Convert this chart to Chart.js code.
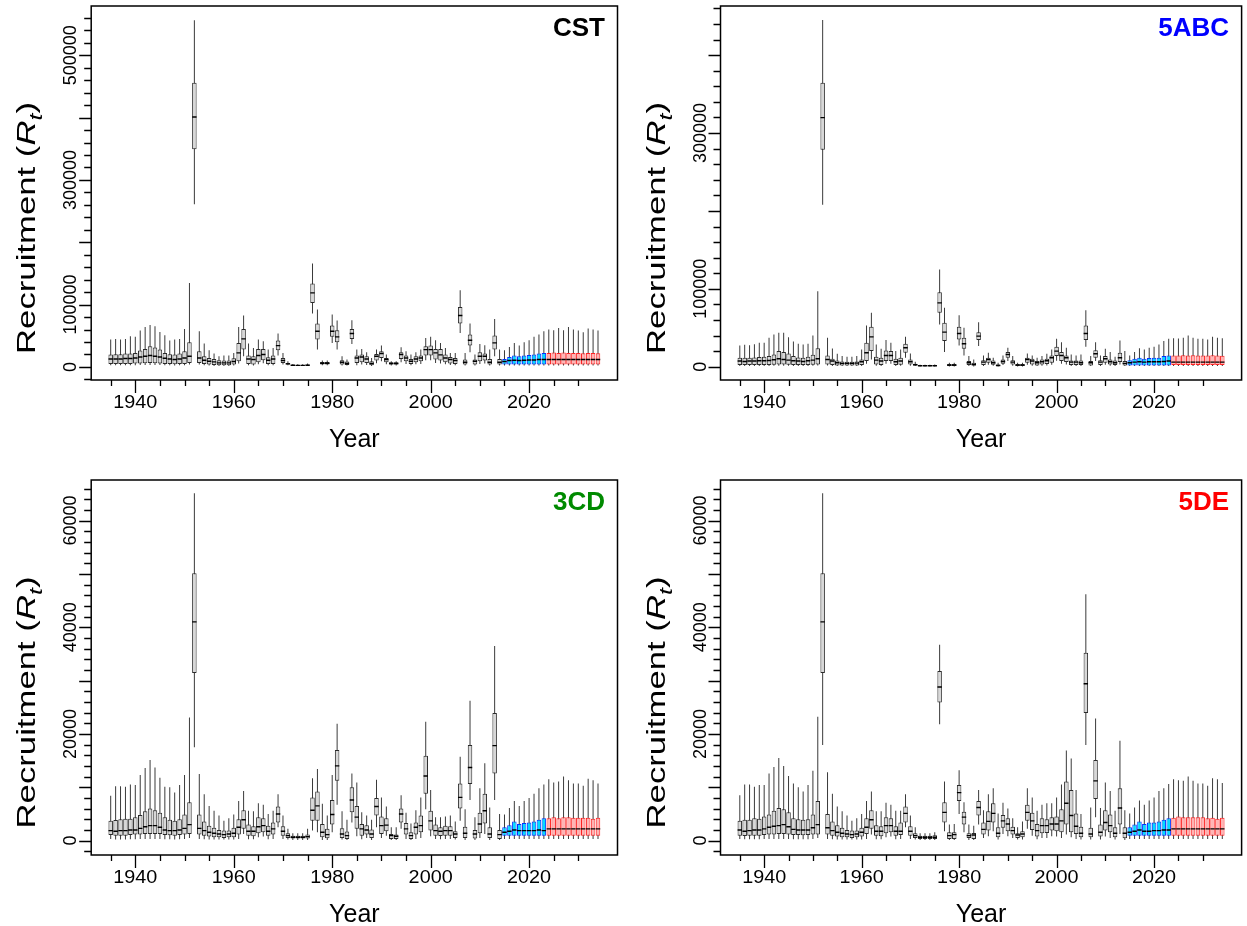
<!DOCTYPE html>
<html>
<head>
<meta charset="utf-8">
<title>Recruitment</title>
<script src="https://cdn.jsdelivr.net/npm/chart.js@4.4.1/dist/chart.umd.min.js"></script>
<style>
  html, body { margin: 0; padding: 0; background: #fff; }
  #wrap { position: relative; width: 1247px; height: 926px; }
  #wrap canvas { position: absolute; left: 0; top: 0; }
</style>
</head>
<body>
<div id="wrap">
  <canvas id="cst" width="1247" height="926"></canvas>
  <canvas id="abc" width="1247" height="926"></canvas>
  <canvas id="cd" width="1247" height="926"></canvas>
  <canvas id="de" width="1247" height="926"></canvas>
</div>
<script>
document.addEventListener("DOMContentLoaded", function() {
    // years 1935-2034: grey = estimated, blue = model years, red = projection
    const years = Array.from({ length: 100 }, (_, i) => 1935 + i);
    const lastEstimatedYear = 2014;
    const lastModelYear = 2023;

    const xTickLabels = [1940, 1960, 1980, 2000, 2020];
    const xMinorFrom = 1935, xMinorTo = 2030, xMinorStep = 5;

    const cstTickLabels = [0, 100000, 300000, 500000];
    const abcTickLabels = [0, 100000, 300000];
    const cdTickLabels = [0, 20000, 40000, 60000];
    const deTickLabels = [0, 20000, 40000, 60000];

    // ---- CST (coastwide) ----
    const cstHi = [
        43900, 44900, 43900, 44900, 49200, 48200, 58300, 64200, 67400, 65300,
        56200, 50800, 42300, 43900, 44900, 61000, 134800, 556000, 57200, 37400,
        26700, 21400, 17100, 18200, 18200, 22500, 64200, 82400, 37400, 30500,
        43900, 41200, 27800, 30500, 53500, 22500, 9100, 4800, 4300, 4300,
        5400, 165900, 92000, 10200, 10200, 84000, 74400, 17100, 11800, 74900,
        27800, 28900, 23500, 14400, 27800, 34200, 19800, 9100, 9100, 31600,
        25100, 19800, 23500, 27800, 46500, 48200, 42800, 38500, 30500, 22500,
        22500, 123000, 22500, 69600, 19800, 36900, 34800, 27800, 77000, 27800,
        26700, 32100, 38500, 34200, 39600, 42800, 48200, 51900, 57200, 59900,
        58900, 62600, 58900, 64200, 59900, 58300, 55600, 61500, 59900, 58300];
    const cstQ3 = [
        19800, 20300, 20300, 21400, 21400, 22500, 26200, 28900, 33200, 31000,
        27800, 22500, 20300, 19800, 21400, 25100, 39600, 456000, 25100, 17100,
        14400, 12800, 10700, 10200, 10200, 13900, 38500, 61000, 18200, 17100,
        28900, 28900, 15500, 18200, 42300, 14400, 6400, 3200, 3200, 3200,
        3700, 133800, 69600, 8000, 8000, 66300, 58900, 10700, 8600, 61000,
        18200, 19800, 17100, 9100, 20900, 25100, 14400, 7500, 7500, 23500,
        18200, 12800, 17100, 18200, 33200, 34200, 28900, 28900, 19800, 16000,
        14400, 96300, 11800, 51900, 11800, 23500, 21400, 12800, 50300, 12800,
        12800, 16000, 18200, 17100, 18200, 19300, 19800, 21400, 22500, 22500,
        23000, 22500, 23000, 22500, 22500, 22500, 22000, 22500, 22500, 22000];
    const cstMed = [
        12800, 12800, 12800, 13400, 13400, 14400, 16000, 17100, 18200, 17100,
        16000, 13900, 12800, 11800, 12800, 14400, 17100, 401000, 14400, 10700,
        9100, 8000, 6400, 6400, 6400, 8600, 22500, 44900, 12800, 11800,
        18200, 19800, 10700, 12800, 34200, 10200, 4800, 2700, 2400, 2400,
        2700, 118800, 57200, 5900, 5900, 57200, 48200, 7500, 5400, 53500,
        14400, 16000, 12800, 5400, 17100, 21400, 11800, 5400, 5400, 19800,
        14400, 9100, 12800, 14400, 27800, 27800, 22500, 19300, 14400, 11800,
        10200, 82400, 7500, 42800, 9100, 17100, 17100, 7500, 38500, 7500,
        8600, 10200, 10700, 10200, 10700, 11200, 11200, 11800, 11800, 11800,
        11800, 11800, 11800, 11800, 11800, 11800, 11800, 11800, 11800, 11800];
    const cstQ1 = [
        4800, 4800, 4800, 4800, 4800, 5400, 5400, 5900, 6400, 5900,
        5400, 4800, 4800, 4300, 4800, 4800, 6400, 349000, 6400, 4800,
        3700, 3200, 2700, 2700, 2700, 3700, 9100, 27800, 4800, 3700,
        7500, 10700, 4800, 4800, 26700, 6400, 3700, 2100, 1900, 1900,
        2100, 102700, 43900, 3700, 3700, 48200, 39600, 3700, 3200, 44900,
        6400, 7500, 6400, 2700, 10200, 14400, 7500, 3700, 3700, 12800,
        9100, 4800, 7500, 9100, 18200, 18200, 11800, 10200, 7500, 5400,
        4800, 69600, 3700, 34200, 3700, 9100, 10200, 3700, 27800, 3700,
        3700, 3700, 3700, 3700, 3700, 3700, 3700, 3700, 3700, 3700,
        3700, 3700, 3700, 3700, 3700, 3700, 3700, 3700, 3700, 3700];
    const cstLo = [
        2700, 2700, 2700, 2700, 2700, 2700, 3000, 3200, 3200, 3200,
        3000, 2700, 2700, 2400, 2700, 2700, 3700, 261000, 3700, 2700,
        2100, 1600, 1600, 1600, 1600, 2100, 5400, 17100, 2700, 2100,
        4300, 5900, 2700, 2700, 18200, 3700, 2700, 1600, 1400, 1400,
        1600, 85600, 27800, 2700, 2700, 38500, 27800, 2100, 2100, 36900,
        2700, 3700, 3200, 1600, 5900, 9100, 4300, 2100, 2100, 7500,
        4800, 2700, 4300, 4800, 10700, 10700, 6400, 5400, 4300, 3200,
        2700, 54600, 2100, 23500, 2100, 4800, 5400, 2100, 17100, 2100,
        2100, 2100, 2100, 2100, 2100, 2100, 2100, 2100, 2100, 2100,
        2100, 2100, 2100, 2100, 2100, 2100, 2100, 2100, 2100, 2100];

    // ---- 5ABC ----
    const abcHi = [
        27300, 28200, 27700, 29000, 30700, 30700, 37100, 41400, 43600, 43600,
        38000, 32500, 29500, 28600, 29500, 40100, 96900, 445000, 37100, 23500,
        16700, 13700, 12800, 12800, 13700, 22200, 52900, 69200, 28600, 23100,
        34200, 30700, 20100, 22200, 38400, 17100, 6400, 2600, 2600, 2600,
        3000, 124700, 75600, 5100, 5100, 66200, 50000, 13700, 9400, 57200,
        14500, 17900, 11500, 5100, 14500, 24300, 13700, 5100, 5100, 17100,
        14500, 11500, 13700, 16700, 22200, 35900, 31600, 24300, 15800, 14500,
        15800, 72600, 13700, 31600, 14500, 23100, 18800, 12800, 33700, 20100,
        14500, 18800, 23900, 22200, 24300, 25600, 28600, 32900, 35900, 36700,
        36300, 37100, 40100, 37100, 35900, 35900, 35000, 38400, 37100, 36700];
    const abcQ3 = [
        11500, 11500, 11500, 11900, 12400, 12800, 13700, 15800, 20100, 18800,
        17100, 13700, 11900, 11500, 12800, 15400, 23900, 364500, 14500, 10200,
        8100, 6800, 6400, 6400, 6800, 9400, 30700, 51200, 12800, 11500,
        20900, 20100, 10200, 11500, 29500, 9400, 3800, 1700, 1700, 1700,
        2100, 95600, 56400, 3400, 3400, 51200, 37100, 7300, 5100, 44400,
        8500, 11500, 8100, 3000, 9400, 18800, 8500, 3400, 3400, 11500,
        10200, 7300, 9400, 10200, 14500, 25600, 18800, 14500, 8100, 8100,
        8100, 52900, 7300, 21300, 8500, 13700, 9400, 8100, 17900, 7300,
        8500, 10200, 11500, 10200, 11100, 11500, 11500, 13700, 14500, 14500,
        14500, 14900, 14500, 14900, 14500, 14500, 14500, 14900, 14500, 14100];
    const abcMed = [
        7300, 6800, 7300, 7300, 7700, 7700, 8100, 9000, 10200, 9400,
        8500, 7700, 7300, 6800, 7700, 8500, 10200, 319700, 9400, 7300,
        5100, 4300, 4300, 4300, 4700, 6400, 17900, 38400, 8500, 7300,
        14500, 14500, 6400, 7300, 24300, 6400, 2600, 1300, 1300, 1300,
        1300, 82000, 44400, 2100, 2100, 42700, 29500, 5100, 3000, 39300,
        6000, 9400, 5100, 1700, 6800, 15800, 6000, 2100, 2100, 9400,
        7300, 5100, 6400, 7700, 11500, 20100, 14500, 11500, 6000, 6000,
        5100, 42700, 5100, 16700, 6000, 10200, 6400, 5100, 11500, 4300,
        5100, 6000, 6400, 6000, 6400, 6400, 6400, 6800, 7300, 6000,
        6000, 6000, 6000, 6000, 6000, 6000, 6000, 6000, 6000, 6000];
    const abcQ1 = [
        2100, 2100, 2100, 2100, 2100, 2100, 2100, 2600, 3000, 3000,
        2600, 2100, 2100, 2100, 2100, 2600, 3000, 278600, 3000, 2100,
        1700, 1700, 1700, 1700, 1700, 2100, 7300, 20100, 3000, 2100,
        7300, 7300, 2100, 2600, 17900, 3000, 1700, 900, 900, 900,
        900, 69200, 32900, 900, 900, 35000, 23100, 2100, 1300, 34200,
        2100, 5100, 2600, 900, 3800, 11500, 3000, 900, 900, 5100,
        3000, 1700, 3000, 3400, 5100, 13700, 7300, 6000, 2100, 2100,
        2100, 34200, 1700, 11500, 2100, 5100, 3000, 2100, 6000, 1700,
        1700, 1700, 1700, 1700, 1700, 1700, 1700, 1700, 1700, 2100,
        2100, 2100, 2100, 2100, 2100, 2100, 2100, 2100, 2100, 2100];
    const abcLo = [
        900, 900, 900, 900, 900, 900, 900, 1300, 1300, 1300,
        1300, 900, 900, 900, 900, 1300, 1700, 208000, 1700, 900,
        900, 900, 900, 900, 900, 900, 3800, 9400, 1300, 900,
        3800, 3800, 900, 1300, 11500, 1300, 900, 400, 400, 400,
        400, 54200, 18800, 400, 400, 27300, 14500, 900, 400, 26500,
        900, 2600, 1300, 400, 2100, 7300, 1300, 400, 400, 2600,
        1300, 900, 1300, 1700, 2600, 7700, 3800, 3000, 900, 900,
        900, 25600, 900, 7300, 900, 2600, 1300, 900, 3000, 900,
        900, 900, 900, 900, 900, 900, 900, 900, 900, 900,
        900, 900, 900, 900, 900, 900, 900, 900, 900, 900];

    // ---- 3CD ----
    const cdHi = [
        8400, 10200, 10200, 10100, 10500, 10400, 12300, 13600, 15100, 13700,
        11800, 10100, 10000, 9000, 10400, 12300, 23100, 65100, 12500, 8700,
        6500, 5600, 4700, 3700, 4200, 4900, 7400, 9300, 5600, 5500,
        7000, 6700, 5000, 5600, 8700, 4700, 2200, 1370, 1370, 1370,
        2200, 11700, 13400, 6900, 4700, 12300, 21900, 5500, 3900, 12600,
        10900, 5300, 4700, 3900, 11400, 8100, 6400, 2500, 2500, 8500,
        5200, 3200, 5700, 8100, 22300, 9500, 4400, 4400, 4500, 4700,
        3600, 15700, 5900, 26200, 4400, 9800, 14500, 6200, 36500, 5000,
        4900, 6100, 7400, 6500, 7400, 8000, 8800, 9800, 10500, 11500,
        10900, 11100, 12000, 11300, 10700, 10700, 10300, 11600, 11300, 10700];
    const cdQ3 = [
        3700, 3860, 4000, 4100, 4100, 4400, 4800, 5500, 6000, 5700,
        5200, 4400, 3900, 3700, 4000, 4900, 7200, 50100, 4900, 3600,
        2800, 2400, 2000, 1870, 1870, 2400, 4000, 5700, 3000, 2700,
        4400, 4200, 2800, 3400, 6400, 2700, 1370, 930, 930, 930,
        1120, 8100, 9200, 3100, 2200, 7600, 17000, 2300, 1700, 10000,
        6500, 3100, 2900, 2100, 8000, 4500, 4200, 1250, 1120, 6000,
        3300, 1560, 3400, 4700, 15900, 5600, 3000, 2500, 2800, 2700,
        1740, 10700, 2600, 17900, 2000, 5200, 8800, 2500, 23900, 2000,
        2500, 2900, 3600, 3100, 3300, 3400, 3600, 3900, 4200, 4200,
        4400, 4200, 4400, 4400, 4300, 4300, 4300, 4300, 4100, 4300];
    const cdMed = [
        1870, 1740, 1870, 1870, 2000, 2000, 2300, 2600, 2800, 2800,
        2500, 2000, 1870, 1870, 2000, 2300, 3000, 41000, 2300, 1870,
        1560, 1370, 1250, 1120, 1250, 1370, 2500, 3900, 1740, 1740,
        2600, 2800, 1740, 2200, 5000, 1740, 930, 620, 620, 620,
        750, 5700, 6500, 1560, 1120, 4900, 14000, 1250, 930, 7600,
        4400, 2200, 2000, 1250, 6400, 2800, 2900, 930, 810, 5000,
        2200, 930, 2500, 2800, 12100, 3700, 1870, 1740, 1870, 1870,
        1250, 8100, 1370, 13700, 1250, 3100, 5600, 1250, 17800, 1120,
        1560, 1740, 2000, 1870, 1870, 1870, 1870, 2000, 1870, 2200,
        2200, 2200, 2200, 2200, 2200, 2200, 2200, 2200, 2200, 2200];
    const cdQ1 = [
        1060, 930, 930, 930, 1060, 1120, 1120, 1250, 1250, 1250,
        1250, 1060, 1000, 930, 1060, 1120, 1250, 31400, 1120, 930,
        750, 620, 620, 500, 620, 620, 1120, 2200, 930, 810,
        1370, 1560, 930, 1120, 3400, 930, 500, 370, 370, 370,
        370, 3700, 3700, 620, 440, 3000, 11200, 500, 310, 5300,
        2200, 930, 1120, 500, 4700, 1250, 1740, 310, 310, 3400,
        1120, 310, 1120, 1560, 8800, 1870, 930, 870, 930, 930,
        500, 6000, 500, 10600, 370, 1370, 3200, 500, 12600, 310,
        930, 930, 930, 930, 930, 930, 930, 930, 930, 930,
        930, 930, 930, 930, 930, 930, 930, 930, 930, 930];
    const cdLo = [
        310, 190, 190, 190, 250, 250, 310, 310, 310, 310,
        310, 250, 250, 190, 250, 310, 500, 17500, 310, 250,
        190, 190, 190, 190, 190, 190, 310, 1250, 250, 250,
        620, 750, 250, 310, 2500, 310, 190, 120, 120, 120,
        120, 1870, 1560, 120, 120, 1560, 6700, 190, 120, 3400,
        810, 250, 500, 120, 2500, 500, 930, 120, 120, 2200,
        310, 120, 310, 500, 5900, 810, 310, 250, 310, 310,
        190, 3700, 120, 7600, 120, 500, 1250, 120, 7600, 120,
        310, 310, 310, 310, 310, 310, 310, 310, 310, 310,
        310, 310, 310, 310, 310, 310, 310, 310, 310, 310];

    // ---- 5DE ----
    const deHi = [
        8500, 10500, 10500, 10100, 10400, 10400, 12600, 13800, 15500, 14000,
        12100, 10700, 10000, 9200, 10400, 13100, 23200, 65100, 12800, 8800,
        6400, 5500, 4700, 3700, 4200, 5000, 7400, 9200, 5500, 5500,
        7100, 6700, 5600, 5600, 8700, 4700, 2500, 1370, 1370, 1370,
        1560, 36700, 11100, 3000, 3100, 13200, 7200, 3000, 2800, 9500,
        5700, 8700, 9800, 5100, 7100, 6000, 4200, 2500, 3600, 9800,
        8100, 5600, 6700, 7000, 7000, 8100, 10500, 16900, 15400, 9500,
        5000, 46200, 6200, 22900, 6100, 10900, 9300, 5600, 18700, 5700,
        5100, 6200, 7500, 6700, 7500, 8100, 9300, 9800, 10600, 11500,
        11300, 11200, 12000, 11200, 10700, 10700, 10300, 11700, 11500, 10800];
    const deQ3 = [
        3700, 3900, 3900, 4200, 4100, 4500, 4900, 5600, 6100, 5900,
        5300, 4200, 4000, 3900, 4000, 4900, 7400, 50100, 5000, 3600,
        2900, 2400, 2000, 1870, 1870, 2400, 4200, 5700, 2900, 2700,
        4400, 4200, 2700, 3400, 6400, 2700, 1370, 930, 930, 930,
        1000, 31800, 7200, 1560, 1560, 10400, 5400, 1370, 1440, 7400,
        3400, 5500, 7000, 2500, 4800, 4200, 2600, 1370, 1740, 6700,
        5200, 3100, 4200, 4000, 4400, 4500, 5900, 11100, 9500, 5100,
        2600, 35200, 2400, 15100, 3000, 5700, 4900, 2500, 9800, 2500,
        2500, 3000, 3600, 3100, 3400, 3400, 3600, 3900, 4200, 4300,
        4500, 4400, 4400, 4400, 4400, 4400, 4200, 4300, 4100, 4300];
    const deMed = [
        2000, 1740, 1870, 2000, 2000, 2200, 2500, 2700, 2800, 3000,
        2600, 2100, 2000, 2000, 2000, 2400, 3000, 41000, 2400, 1870,
        1560, 1370, 1250, 1120, 1250, 1560, 2500, 3900, 1740, 1740,
        2800, 2800, 1740, 1740, 5100, 1740, 930, 620, 620, 620,
        620, 28800, 5300, 930, 1120, 9000, 4400, 930, 1060, 6200,
        2100, 3600, 5100, 1370, 3700, 3100, 1870, 1060, 1250, 5300,
        3700, 1870, 2800, 2800, 3100, 3100, 3700, 7000, 4700, 2700,
        1370, 29400, 1250, 11200, 1560, 3400, 2800, 1370, 6100, 1370,
        1560, 1740, 2000, 1740, 1740, 1870, 1870, 2000, 2000, 2200,
        2200, 2200, 2200, 2200, 2200, 2200, 2200, 2200, 2200, 2200];
    const deQ1 = [
        930, 870, 930, 930, 930, 1060, 1120, 1120, 1250, 1250,
        1120, 1060, 1060, 1000, 1060, 1120, 1120, 31400, 1120, 930,
        750, 620, 620, 500, 620, 750, 1250, 2200, 930, 810,
        1370, 1560, 930, 1060, 3400, 930, 500, 310, 310, 310,
        310, 25900, 3400, 310, 310, 7400, 3000, 500, 310, 4700,
        1120, 1870, 3400, 620, 2400, 1740, 1120, 500, 620, 3700,
        2000, 750, 1370, 1440, 1870, 1740, 1560, 3000, 1560, 1250,
        620, 23900, 620, 7800, 750, 1870, 1560, 620, 3000, 440,
        930, 930, 930, 930, 930, 930, 930, 930, 930, 930,
        930, 930, 930, 930, 930, 930, 930, 930, 930, 930];
    const deLo = [
        310, 250, 250, 250, 250, 310, 310, 310, 310, 310,
        310, 250, 250, 250, 250, 310, 500, 17900, 310, 250,
        190, 190, 190, 190, 190, 190, 310, 1120, 250, 250,
        620, 750, 250, 310, 2500, 310, 190, 120, 120, 120,
        120, 21800, 1740, 120, 120, 5000, 1560, 120, 120, 3000,
        500, 810, 1740, 190, 1250, 810, 500, 190, 190, 2200,
        930, 250, 500, 500, 810, 750, 500, 1120, 620, 310,
        190, 17900, 190, 4400, 190, 750, 500, 190, 1250, 120,
        310, 310, 310, 310, 310, 310, 310, 310, 310, 310,
        310, 310, 310, 310, 310, 310, 310, 310, 310, 310];

    const FONT = '"Liberation Sans", Arial, sans-serif';
    const styles = {
        hist:  { fill: '#d8d8d8', line: '#2a2a2a' },
        model: { fill: '#00dcff', line: '#0033ff' },
        proj:  { fill: '#ffb4b4', line: '#ff2222' }
    };
    function period(yr) {
        if (yr <= lastEstimatedYear) return 'hist';
        if (yr <= lastModelYear) return 'model';
        return 'proj';
    }

    const panels = [
        { id: 'cst', title: 'CST', color: '#000000', area: { left: 91.2, top: 6, right: 617.5, bottom: 380 },
          yMin: -21000, yMax: 579000, major: 100000, minor: 20000, labels: cstTickLabels,
          lo: cstLo, q1: cstQ1, med: cstMed, q3: cstQ3, hi: cstHi },
        { id: 'abc', title: '5ABC', color: '#0000ff', area: { left: 720.5, top: 6, right: 1246.8, bottom: 380 },
          yMin: -17000, yMax: 463000, major: 100000, minor: 20000, labels: abcTickLabels,
          lo: abcLo, q1: abcQ1, med: abcMed, q3: abcQ3, hi: abcHi },
        { id: 'cd', title: '3CD', color: '#008a00', area: { left: 91.2, top: 480, right: 617.5, bottom: 855 },
          yMin: -2700, yMax: 67600, major: 10000, minor: 2000, labels: cdTickLabels,
          lo: cdLo, q1: cdQ1, med: cdMed, q3: cdQ3, hi: cdHi },
        { id: 'de', title: '5DE', color: '#ff0000', area: { left: 720.5, top: 480, right: 1246.8, bottom: 855 },
          yMin: -2700, yMax: 67600, major: 10000, minor: 2000, labels: deTickLabels,
          lo: deLo, q1: deQ1, med: deMed, q3: deQ3, hi: deHi }
    ];

    function text(ctx, str, x, y, font, o) {
        ctx.save();
        ctx.font = font;
        ctx.translate(x, y);
        if (o.rotate) ctx.rotate(o.rotate);
        ctx.scale(o.sx || 1, o.sy || 1);
        ctx.textAlign = o.align || 'center';
        ctx.textBaseline = 'alphabetic';
        ctx.fillStyle = o.color || '#000';
        ctx.fillText(str, 0, 0);
        ctx.restore();
    }

    function yTitle(ctx, x, y, size, target) {
        const parts = [
            { t: 'Recruitment (', f: size + 'px ' + FONT, dy: 0 },
            { t: 'R', f: 'italic ' + size + 'px ' + FONT, dy: 0 },
            { t: 't', f: 'italic ' + Math.round(size * 0.7) + 'px ' + FONT, dy: size * 0.28 },
            { t: ')', f: size + 'px ' + FONT, dy: 0 }
        ];
        let total = 0;
        parts.forEach(p => { ctx.font = p.f; p.w = ctx.measureText(p.t).width; total += p.w; });
        ctx.save();
        ctx.translate(x, y);
        ctx.rotate(-Math.PI / 2);
        ctx.scale(target / total, 1);
        ctx.fillStyle = '#000';
        ctx.textBaseline = 'alphabetic';
        ctx.textAlign = 'left';
        let cx = -total / 2;
        parts.forEach(p => { ctx.font = p.f; ctx.fillText(p.t, cx, p.dy); cx += p.w; });
        ctx.restore();
    }

    function axesPlugin(p) {
        return {
            id: 'rAxes',
            afterDraw(chart) {
                const ctx = chart.ctx, a = chart.chartArea;
                const xs = chart.scales.x, ys = chart.scales.y;
                ctx.save();
                ctx.strokeStyle = '#000';
                ctx.lineWidth = 1.5;
                ctx.strokeRect(a.left, a.top, a.right - a.left, a.bottom - a.top);

                ctx.lineWidth = 1.3;
                ctx.beginPath();
                for (let v = Math.ceil(p.yMin / p.minor) * p.minor; v <= p.yMax; v += p.minor) {
                    const y = Math.round(ys.getPixelForValue(v)) + 0.5;
                    const len = v % p.major === 0 ? 12 : 7;
                    ctx.moveTo(a.left - len, y);
                    ctx.lineTo(a.left, y);
                }
                for (let yr = xMinorFrom; yr <= xMinorTo; yr += xMinorStep) {
                    const x = Math.round(xs.getPixelForValue(yr)) + 0.5;
                    const len = xTickLabels.includes(yr) ? 13 : 6;
                    ctx.moveTo(x, a.bottom);
                    ctx.lineTo(x, a.bottom + len);
                }
                ctx.stroke();
                ctx.restore();

                p.labels.forEach(v => {
                    text(ctx, String(v), a.left - 15, ys.getPixelForValue(v), '18px ' + FONT,
                        { rotate: -Math.PI / 2, sx: 1 });
                });
                xTickLabels.forEach(yr => {
                    text(ctx, String(yr), xs.getPixelForValue(yr), a.bottom + 28, '18px ' + FONT, { sx: 1.1 });
                });
                text(ctx, 'Year', (a.left + a.right) / 2, a.bottom + 67, '25px ' + FONT, {});
                yTitle(ctx, a.left - 56, (a.top + a.bottom) / 2 + 35, 25, 252);
                text(ctx, p.title, a.right - 12.5, a.top + 30, 'bold 26px ' + FONT,
                    { align: 'right', color: p.color });
            }
        };
    }

    panels.forEach(p => {
        const ctx = document.getElementById(p.id).getContext('2d');
        new Chart(ctx, {
            type: 'bar',
            data: {
                datasets: [
                    {
                        type: 'scatter',
                        data: years.map((yr, i) => ({ x: yr, y: p.med[i] })),
                        pointStyle: 'line',
                        pointRadius: 2.2,
                        pointBorderColor: '#000',
                        pointBorderWidth: 1.4,
                        order: 0
                    },
                    {
                        type: 'bar',
                        data: years.map((yr, i) => ({ x: yr, y: [p.q1[i], p.q3[i]] })),
                        backgroundColor: years.map(yr => styles[period(yr)].fill),
                        borderColor: years.map(yr => styles[period(yr)].line),
                        borderWidth: 1,
                        borderSkipped: false,
                        inflateAmount: 0,
                        barThickness: 4.5,
                        grouped: false,
                        order: 1
                    },
                    {
                        type: 'bar',
                        data: years.map((yr, i) => ({ x: yr, y: [p.lo[i], p.hi[i]] })),
                        backgroundColor: '#3a3a3a',
                        inflateAmount: 0,
                        barThickness: 1,
                        grouped: false,
                        order: 2
                    }
                ]
            },
            options: {
                responsive: false,
                animation: false,
                devicePixelRatio: 1,
                events: [],
                layout: { padding: { left: p.area.left, top: p.area.top, right: 1247 - p.area.right, bottom: 926 - p.area.bottom } },
                plugins: { legend: { display: false }, tooltip: { enabled: false } },
                scales: {
                    x: { type: 'linear', min: 1931.04, max: 2037.96, offset: false, display: false },
                    y: { type: 'linear', min: p.yMin, max: p.yMax, display: false }
                }
            },
            plugins: [axesPlugin(p)]
        });
    });
});
</script>
</body>
</html>
